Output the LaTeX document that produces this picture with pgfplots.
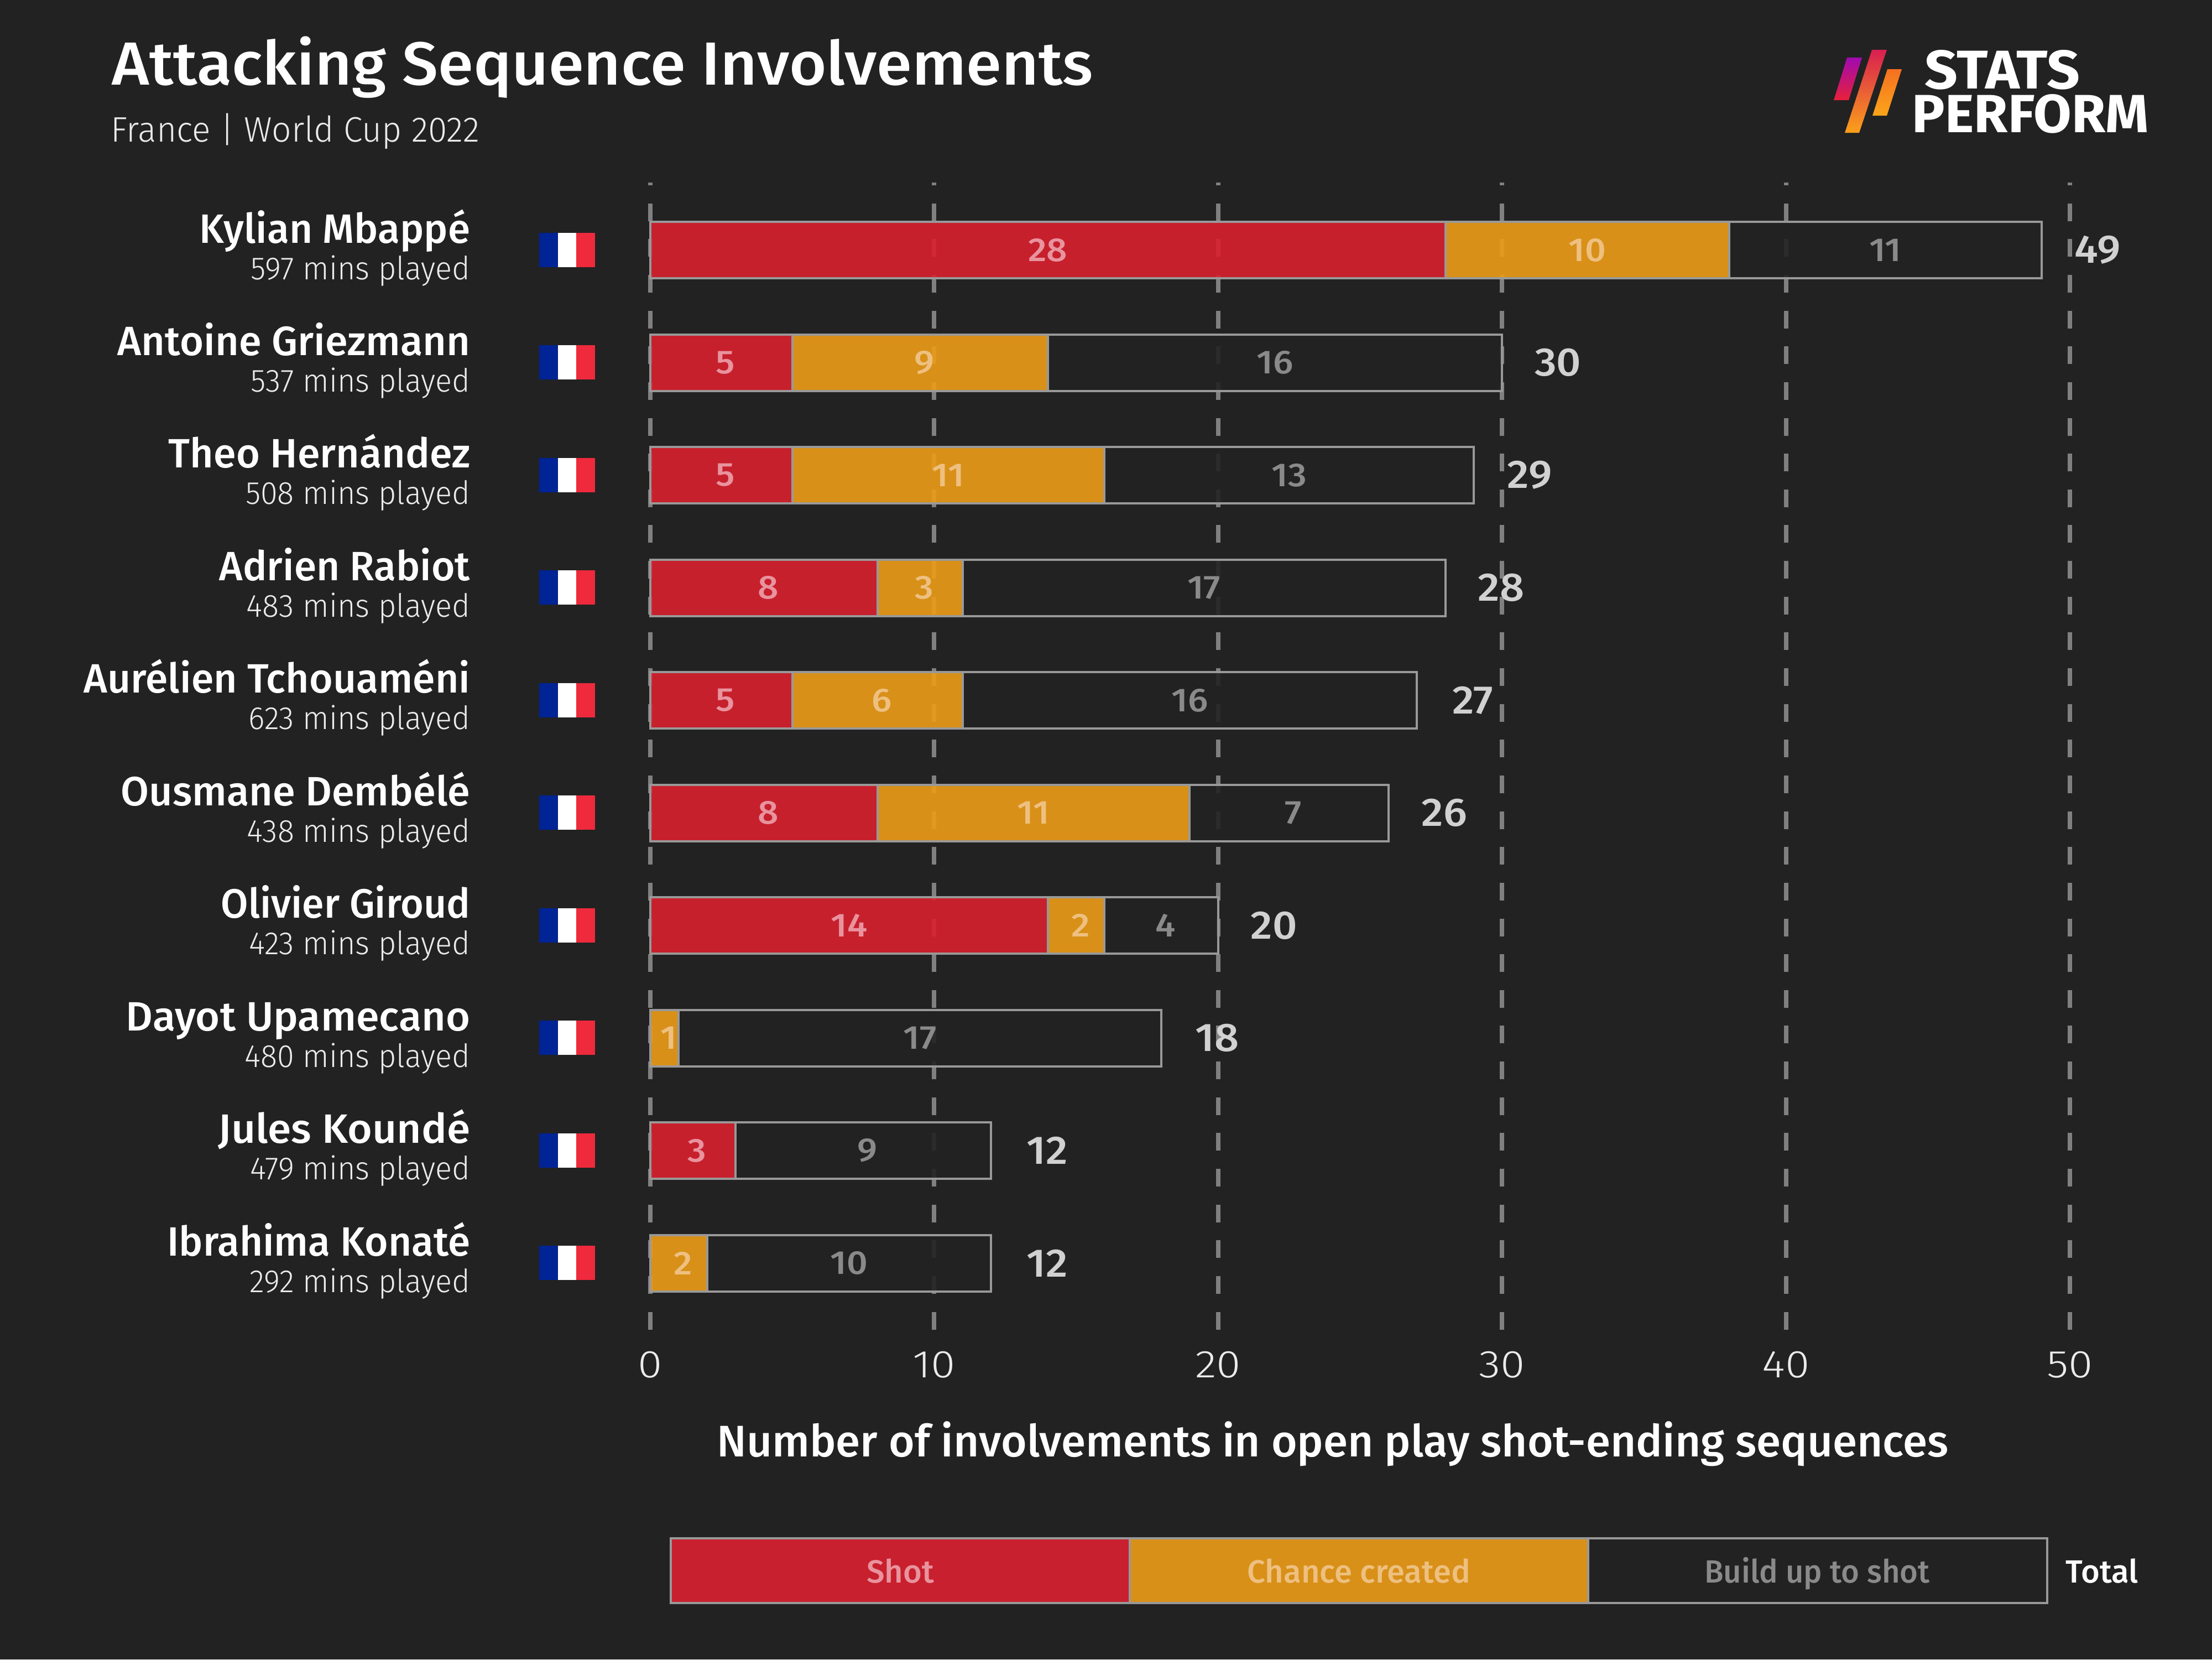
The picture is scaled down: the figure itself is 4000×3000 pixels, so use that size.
\documentclass[border=0pt]{standalone}
\usepackage{fontspec}
\setmainfont{Fira Sans}
\newfontfamily\med{Fira Sans Medium}
\newfontfamily\lite{Fira Sans Light}
\usepackage{pgfplots}
\pgfplotsset{compat=1.18}
\definecolor{bg}{HTML}{222222}
\definecolor{cshot}{HTML}{DA202F}
\definecolor{cchance}{HTML}{EC9C17}
\definecolor{lshot}{HTML}{C8202E}
\definecolor{lchance}{HTML}{D89018}
\definecolor{tshot}{HTML}{E8939E}
\definecolor{tchance}{HTML}{EEC080}
\definecolor{tbuild}{HTML}{8A8A8A}
\definecolor{edge}{HTML}{999999}
\definecolor{fblue}{HTML}{002395}
\definecolor{fred}{HTML}{EE2A3C}
\definecolor{l1a}{HTML}{A00AB0}
\definecolor{l1b}{HTML}{E8203A}
\definecolor{l2a}{HTML}{D81F50}
\definecolor{l2m}{HTML}{F0452A}
\definecolor{l2b}{HTML}{FBA01A}
\definecolor{l3a}{HTML}{F57020}
\definecolor{l3b}{HTML}{FCA51A}
\newcommand\sx[2]{\scalebox{#1}[1]{#2}}
\newcommand\lab[4]{\node[text=#4,font=\med\fontsize{15}{15}\selectfont,inner sep=0pt] at (axis cs:#1,#2) {\sx{1.1}{#3}};}
\newcommand\tot[2]{\node[text=white!82!black,font=\med\fontsize{18}{18}\selectfont,inner sep=0pt] at (axis cs:#1+1.97,#2) {\sx{1.08}{#1}};}
\begin{document}
\begin{tikzpicture}[x=0.25pt,y=-0.25pt]
\path[use as bounding box] (0,0) rectangle (4000,3000);
\fill[bg] (0,0) rectangle (4000,3000);
\begin{axis}[at={(294pt,-82.5pt)},anchor=north west,scale only axis,width=641.75pt,height=518.5pt,
 xmin=0,xmax=50,ymin=-0.6,ymax=9.592,y dir=reverse,clip=false,
 xbar stacked,bar width=25.5pt,
 xtick={0,10,20,30,40,50},ytick=\empty,
 axis line style={draw=none},tick style={draw=none},
 xmajorgrids,major grid style={color=white!50!black,line width=2pt,dash pattern=on 8pt off 8.16pt,dash phase=6.75pt},
 xticklabel={\sx{1.15}{\pgfmathprintnumber{\tick}}},
 xticklabel style={anchor=center,yshift=-15.75pt,text=white!92!black,font=\lite\fontsize{17.5}{17.5}\selectfont},
 /pgf/number format/assume math mode=true,
 xlabel={Number of involvements in open play shot-ending sequences},
 xlabel style={at={(axis description cs:0.4807,-0.0993)},anchor=center,text=white,font=\med\fontsize{20}{20}\selectfont},
 every axis plot/.append style={draw=edge,line width=1pt,fill opacity=0.9}]
\addplot[fill=cshot] coordinates {(28,0)(5,1)(5,2)(8,3)(5,4)(8,5)(14,6)(0,7)(3,8)(0,9)};
\addplot[fill=cchance] coordinates {(10,0)(9,1)(11,2)(3,3)(6,4)(11,5)(2,6)(1,7)(0,8)(2,9)};
\addplot[fill=bg] coordinates {(11,0)(16,1)(13,2)(17,3)(16,4)(7,5)(4,6)(17,7)(9,8)(10,9)};
\end{axis}
\begin{axis}[at={(294pt,-82.5pt)},anchor=north west,scale only axis,width=641.75pt,height=518.5pt,
 xmin=0,xmax=50,ymin=-0.6,ymax=9.592,y dir=reverse,clip=false,hide axis]
\lab{14}{0}{28}{tshot}\lab{33}{0}{10}{tchance}\lab{43.5}{0}{11}{tbuild}\tot{49}{0}
\lab{2.65}{1}{5}{tshot}\lab{9.65}{1}{9}{tchance}\lab{22}{1}{16}{tbuild}\tot{30}{1}
\lab{2.65}{2}{5}{tshot}\lab{10.5}{2}{11}{tchance}\lab{22.5}{2}{13}{tbuild}\tot{29}{2}
\lab{4.15}{3}{8}{tshot}\lab{9.65}{3}{3}{tchance}\lab{19.5}{3}{17}{tbuild}\tot{28}{3}
\lab{2.65}{4}{5}{tshot}\lab{8.15}{4}{6}{tchance}\lab{19}{4}{16}{tbuild}\tot{27}{4}
\lab{4.15}{5}{8}{tshot}\lab{13.5}{5}{11}{tchance}\lab{22.65}{5}{7}{tbuild}\tot{26}{5}
\lab{7}{6}{14}{tshot}\lab{15.15}{6}{2}{tchance}\lab{18.15}{6}{4}{tbuild}\tot{20}{6}
\lab{0.65}{7}{1}{tchance}\lab{9.5}{7}{17}{tbuild}\tot{18}{7}
\lab{1.65}{8}{3}{tshot}\lab{7.65}{8}{9}{tbuild}\tot{12}{8}
\lab{1.15}{9}{2}{tchance}\lab{7}{9}{10}{tbuild}\tot{12}{9}
\end{axis}
% title
\node[anchor=base west,inner sep=0pt,text=white,font=\med\fontsize{27.5}{27.5}\selectfont] at (202,153) {\sx{1.053}{Attacking Sequence Involvements}};
\node[anchor=base west,inner sep=0pt,text=white!92!black,font=\lite\fontsize{16}{16}\selectfont] at (200,256) {\sx{0.975}{France | World Cup 2022}};
% players
\foreach \n/\m/\s [count=\i from 0] in {Kylian Mbappé/597/0.985,Antoine Griezmann/537/0.998,Theo Hernández/508/0.995,Adrien Rabiot/483/0.985,Aurélien Tchouaméni/623/0.99,Ousmane Dembélé/438/0.998,Olivier Giroud/423/0.968,Dayot Upamecano/480/1.02,Jules Koundé/479/1.037,Ibrahima Konaté/292/0.985}{
 \pgfmathsetmacro\yc{452+203.45*\i}
 \node[anchor=base east,inner sep=0pt,text=white,font=\med\fontsize{18.5}{18.5}\selectfont] at (851,\yc-13) {\sx{\s}{\n}};
 \node[anchor=base east,inner sep=0pt,text=white!92!black,font=\lite\fontsize{14.5}{14.5}\selectfont] at (851,\yc+53) {\sx{0.963}{\m{} mins played}};
 \fill[fill=fblue] (975,\yc-31) rectangle (1009,\yc+31);
 \fill[fill=white] (1009,\yc-31) rectangle (1042,\yc+31);
 \fill[fill=fred] (1042,\yc-31) rectangle (1076,\yc+31);
}
% legend
\draw[edge,line width=1pt,fill=lshot] (1213,2781) rectangle (2043,2898);
\draw[edge,line width=1pt,fill=lchance] (2043,2781) rectangle (2872,2898);
\draw[edge,line width=1pt,fill=bg] (2872,2781) rectangle (3702,2898);
\node[anchor=base,inner sep=0pt,text=tshot,font=\med\fontsize{14.5}{14.5}\selectfont] at (1628,2861) {\sx{1.0}{Shot}};
\node[anchor=base,inner sep=0pt,text=tchance,font=\med\fontsize{14.5}{14.5}\selectfont] at (2457,2861) {\sx{1.0}{Chance created}};
\node[anchor=base,inner sep=0pt,text=tbuild,font=\med\fontsize{14.5}{14.5}\selectfont] at (3286,2861) {\sx{0.97}{Build up to shot}};
\node[anchor=base,inner sep=0pt,text=white,font=\med\fontsize{14.5}{14.5}\selectfont] at (3801,2861) {\sx{1.0}{Total}};
% logo
\shade[top color=l1a,bottom color=l1b] (3340,104)--(3367,104)--(3343,181)--(3316,181)--cycle;
\shade[top color=l2a,middle color=l2m,bottom color=l2b] (3385,90)--(3412,90)--(3362,240)--(3336,240)--cycle;
\shade[top color=l3a,bottom color=l3b] (3413,125)--(3439,125)--(3412,209)--(3386,209)--cycle;
\node[anchor=north west,inner sep=0pt,text=white] at (3480,90) {\resizebox{70pt}{17.5pt}{\bfseries STATS}};
\node[anchor=north west,inner sep=0pt,text=white] at (3457,170) {\resizebox{107pt}{17.25pt}{\bfseries PERFORM}};
\end{tikzpicture}
\end{document}
